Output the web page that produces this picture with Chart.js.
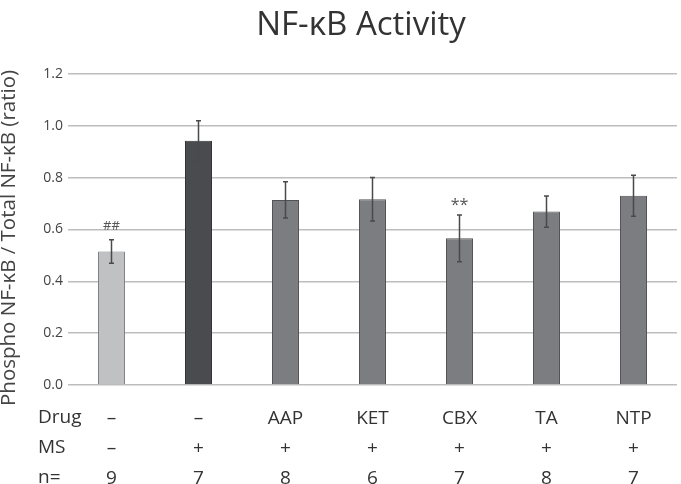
<!DOCTYPE html>
<html>
<head>
<meta charset="utf-8">
<script src="https://cdn.jsdelivr.net/npm/chart.js@4"></script>
<style>
  html, body { margin: 0; padding: 0; background: #fff; }
  #wrap { width: 681px; height: 484px; position: relative; }
</style>
</head>
<body>
<div id="wrap"><canvas id="graph" width="681" height="484"></canvas></div>
<script>
const drugs = ["–", "–", "AAP", "KET", "CBX", "TA", "NTP"];
const msRow = ["–", "+", "+", "+", "+", "+", "+"];
const nRow = ["9", "7", "8", "6", "7", "8", "7"];
const ratios = [0.515, 0.942, 0.714, 0.717, 0.566, 0.669, 0.730];
const errors = [0.045, 0.078, 0.070, 0.084, 0.090, 0.060, 0.079];
const marks = ["##", "", "", "", "**", "", ""];
const fills = ["#c0c1c3", "#4a4b4f", "#7c7d81", "#7c7d81", "#7c7d81", "#7c7d81", "#7c7d81"];
const borders = ["#808183", "#2f3033", "#515256", "#515256", "#515256", "#515256", "#515256"];
const rowNames = ["Drug", "MS", "n="];
const yTicks = [0, 0.2, 0.4, 0.6, 0.8, 1.0, 1.2];

const FONT = "'Open Sans'";
const ctx = document.getElementById("graph").getContext("2d");

const labels = drugs.map((d, i) => [d, msRow[i], nRow[i]]);

const chart = new Chart(ctx, {
  type: "bar",
  data: {
    labels,
    datasets: [{
      data: ratios,
      backgroundColor: fills,
      borderColor: borders,
      borderWidth: 1,
      barPercentage: 0.31,
      categoryPercentage: 1
    }]
  },
  options: {
    responsive: false,
    animation: false,
    layout: { padding: { left: 0, right: 4, top: 74, bottom: 0 } },
    scales: {
      x: {
        grid: { display: false },
        border: { display: false },
        ticks: {
          color: "#333",
          font: { family: FONT, size: 19, lineHeight: 30 / 19 },
          padding: 11,
          maxRotation: 0,
          autoSkip: false
        },
        afterFit(scale) { scale.height = 99; }
      },
      y: {
        min: 0,
        max: 1.2,
        afterBuildTicks(scale) { scale.ticks = yTicks.map(v => ({ value: v })); },
        grid: { color: "#bdbdbd", lineWidth: 1.5, drawTicks: false },
        border: { display: false },
        ticks: {
          color: "#444",
          font: { family: FONT, size: 14 },
          padding: 5,
          callback: v => v.toFixed(1)
        },
        afterFit(scale) { scale.width = 68; }
      }
    },
    plugins: {
      legend: { display: false },
      tooltip: { enabled: false },
      title: { display: false }
    }
  },
  plugins: [{
    id: "errorBarsAndRows",
    afterDatasetsDraw(chart) {
      const { ctx, scales } = chart;
      const x = scales.x, y = scales.y;
      ctx.save();
      // error bars
      ctx.strokeStyle = "#4a4a4a";
      ctx.lineWidth = 1.5;
      ratios.forEach((v, i) => {
        const cx = x.getPixelForValue(i);
        const top = y.getPixelForValue(v + errors[i]);
        const bot = y.getPixelForValue(v - errors[i]);
        ctx.beginPath();
        ctx.moveTo(cx, top); ctx.lineTo(cx, bot);
        ctx.moveTo(cx - 2.5, top); ctx.lineTo(cx + 2.5, top);
        ctx.moveTo(cx - 2.5, bot); ctx.lineTo(cx + 2.5, bot);
        ctx.stroke();
        if (marks[i]) {
          ctx.fillStyle = "#555";
          ctx.font = (marks[i] === "**" ? "16px " : "13px ") + FONT;
          ctx.textAlign = "center";
          ctx.textBaseline = "middle";
          ctx.fillText(marks[i], cx, top - (marks[i] === "**" ? 10 : 14));
        }
      });
      // title
      ctx.fillStyle = "#333";
      ctx.font = "33px " + FONT;
      ctx.textAlign = "center";
      ctx.textBaseline = "middle";
      ctx.fillText("NF-κB Activity", 361, 26);
      // row headers
      ctx.font = "19px " + FONT;
      ctx.textAlign = "left";
      rowNames.forEach((r, k) => ctx.fillText(r, 38, 418 + k * 30));
      // y axis title
      ctx.translate(9, 238);
      ctx.rotate(-Math.PI / 2);
      ctx.textAlign = "center";
      ctx.fillStyle = "#444";
      ctx.font = "20.5px " + FONT;
      ctx.fillText("Phospho NF-κB / Total NF-κB (ratio)", 0, 0);
      ctx.restore();
    }
  }]
});
</script>
</body>
</html>
